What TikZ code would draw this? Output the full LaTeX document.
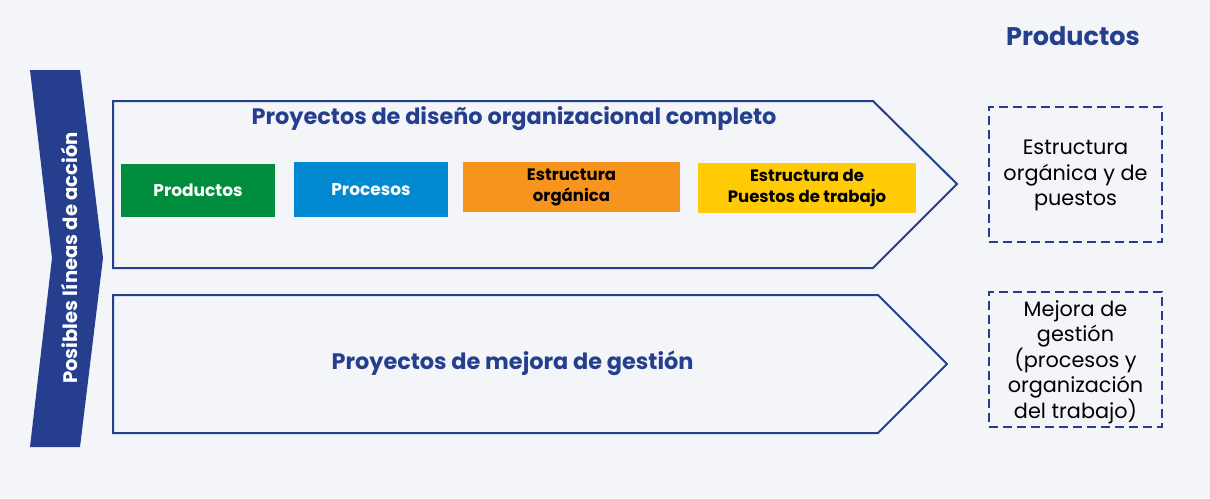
\documentclass[tikz,border=0pt]{standalone}
\usepackage{fontspec}
\setmainfont{Poppins}
\definecolor{bgc}{HTML}{F3F5F9}
\definecolor{navy}{HTML}{253F8E}
\definecolor{cgreen}{HTML}{008D3E}
\definecolor{cblue}{HTML}{0088D0}
\definecolor{corange}{HTML}{F7941D}
\definecolor{cyellow}{HTML}{FFCB05}
\begin{document}
\begin{tikzpicture}[x=1pt,y=-1pt,
  chev/.style={draw=navy,line width=2pt,line join=miter},
  colbox/.style={minimum height=#1,inner sep=0pt,align=center,font=\fontsize{16.5}{21}\selectfont\bfseries},
  prodbox/.style={draw=navy,dashed,dash pattern=on 9pt off 5pt,line width=2.6pt,inner sep=0pt},
  title/.style={text=navy,font=\fontsize{22.4}{26}\selectfont\bfseries,inner sep=0pt},
  prodtext/.style={align=center,font=\fontsize{20.8}{25.5}\selectfont,inner sep=0pt}]
\useasboundingbox (0,0) rectangle (1210,498);
\fill[bgc] (0,0) rectangle (1210,498);
% left chevron
\fill[navy] (30,70) -- (80,70) -- (103,258) -- (80,447) -- (30,447) -- (52,258) -- cycle;
\node[rotate=90,text=white,font=\fontsize{19.6}{22}\selectfont\bfseries,inner sep=0pt] (lineas) at (69,258) {Posibles líneas de acción};
% top chevron
\draw[chev] (113,101) -- (873,101) -- (957,184) -- (873,268) -- (113,268) -- cycle;
\node[title] (t1) at (514,119) {Proyectos de diseño organizacional completo};
% colored boxes
\node[colbox=53pt,fill=cgreen,text=white,minimum width=154pt,font=\fontsize{17}{20}\selectfont\bfseries] (b1) at (198,190.5) {Productos};
\node[colbox=55pt,fill=cblue,text=white,minimum width=154pt,font=\fontsize{17}{20}\selectfont\bfseries] (b2) at (371,189.5) {Procesos};
\node[colbox=50pt,fill=corange,text=black,minimum width=217pt] (b3) at (571.5,187) {Estructura\\orgánica};
\node[colbox=50pt,fill=cyellow,text=black,minimum width=218pt] (b4) at (807,188) {Estructura de\\Puestos de trabajo};
% bottom chevron
\draw[chev] (113,295) -- (878,295) -- (947,364) -- (878,433) -- (113,433) -- cycle;
\node[title] (t2) at (512.5,363) {Proyectos de mejora de gestión};
% products
\node[text=navy,font=\fontsize{25.5}{28}\selectfont\bfseries,inner sep=0pt] (ph) at (1073,36) {Productos};
\node[prodbox,minimum width=173pt,minimum height=135pt] (p1) at (1075.5,174.5) {};
\node[prodtext] (p1t) at (1075.5,175.5) {Estructura\\orgánica y de\\puestos};
\node[prodbox,minimum width=173pt,minimum height=135pt] (p2) at (1075.5,359.5) {};
\node[prodtext] (p2t) at (1075.5,362) {Mejora de\\gestión\\(procesos y\\organización\\del trabajo)};
\end{tikzpicture}
\end{document}
